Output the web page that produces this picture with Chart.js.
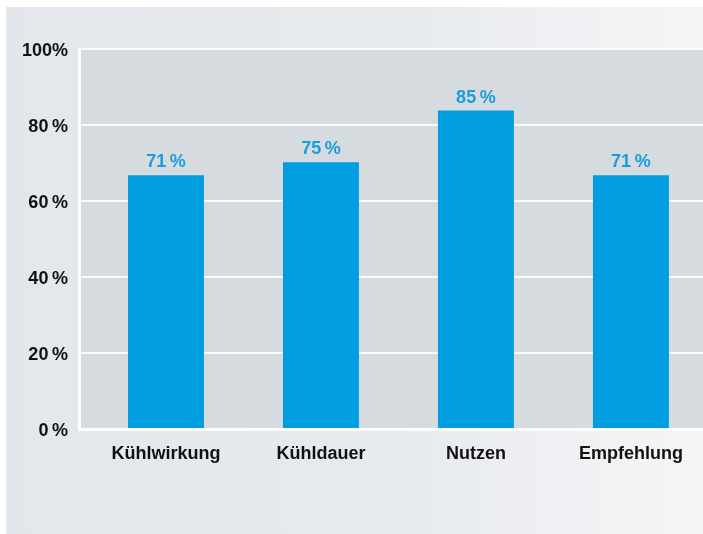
<!DOCTYPE html>
<html>
<head>
<meta charset="utf-8">
<script src="https://cdn.jsdelivr.net/npm/chart.js@4.4.1/dist/chart.umd.min.js"></script>
<style>
    html, body { margin: 0; padding: 0; background: #ffffff; width: 703px; height: 534px; overflow: hidden; }
    .panel {
        position: absolute; left: 6px; top: 7px; width: 697px; height: 527px;
        background: linear-gradient(to right, #e3e7eb 0%, #e7eaed 55%, #f4f5f7 100%);
    }
</style>
</head>
<body>
<div class="panel">
    <canvas id="chart" width="697" height="527"></canvas>
</div>
<script>
// values
const categories = ['Kühlwirkung', 'Kühldauer', 'Nutzen', 'Empfehlung'];
const barValues = [66.8, 70.2, 83.8, 66.8];
const valueLabels = ['71\u2009%', '75\u2009%', '85\u2009%', '71\u2009%'];
const yTickLabels = ['0\u2009%', '20\u2009%', '40\u2009%', '60\u2009%', '80\u2009%', '100%'];

const BLUE = '#009ee0';
const FONT = "'Liberation Sans', Arial, sans-serif";

// plot area background
const plotBg = {
    id: 'plotBg',
    beforeDraw(chart) {
        const { ctx, chartArea: a } = chart;
        ctx.save();
        ctx.fillStyle = '#d6dbdf';
        ctx.fillRect(a.left, a.top, a.right - a.left, a.bottom - a.top);
        ctx.restore();
    }
};

// percent labels above the bars
const barLabels = {
    id: 'barLabels',
    afterDraw(chart) {
        const { ctx } = chart;
        const meta = chart.getDatasetMeta(0);
        ctx.save();
        ctx.fillStyle = '#1a9ddc';
        ctx.font = 'bold 18px ' + FONT;
        ctx.textAlign = 'center';
        ctx.textBaseline = 'alphabetic';
        meta.data.forEach((bar, i) => {
            ctx.fillText(valueLabels[i], bar.x, bar.y - 8);
        });
        ctx.restore();
    }
};

new Chart(document.getElementById('chart'), {
    type: 'bar',
    data: {
        datasets: [{
            data: barValues.map((v, i) => ({ x: i, y: v })),
            backgroundColor: BLUE,
            borderWidth: 0,
            barPercentage: 0.49,
            categoryPercentage: 1.0
        }]
    },
    options: {
        responsive: false,
        animation: false,
        events: [],
        layout: { padding: { top: 42, right: 0, bottom: 0, left: 0 } },
        plugins: { legend: { display: false }, tooltip: { enabled: false } },
        scales: {
            x: {
                type: 'linear',
                min: -0.561,
                max: 3.465,
                offset: false,
                z: 1,
                afterFit(scale) { scale.height = 105; },
                afterBuildTicks(scale) { scale.ticks = categories.map((c, i) => ({ value: i })); },
                grid: { display: false, drawTicks: false },
                border: { display: true, color: '#ffffff', width: 3 },
                ticks: {
                    autoSkip: false,
                    maxRotation: 0,
                    padding: 14,
                    color: '#111111',
                    font: { family: FONT, size: 18, weight: 'bold' },
                    callback: (v) => categories[Math.round(v)]
                }
            },
            y: {
                min: 0,
                max: 100,
                z: 1,
                afterFit(scale) { scale.width = 73; },
                grid: { color: 'rgba(255,255,255,0.85)', lineWidth: 2, drawTicks: false },
                border: { display: true, color: '#ffffff', width: 3 },
                ticks: {
                    stepSize: 20,
                    padding: 11,
                    labelOffset: 2,
                    color: '#111111',
                    font: { family: FONT, size: 18, weight: 'bold' },
                    callback: (v) => yTickLabels[Math.round(v / 20)]
                }
            }
        }
    },
    plugins: [plotBg, barLabels]
});
</script>
</body>
</html>
